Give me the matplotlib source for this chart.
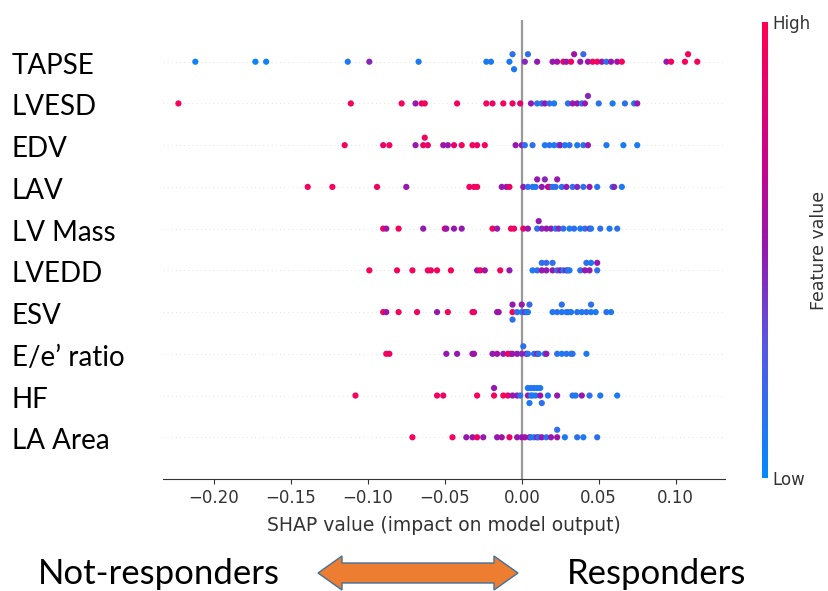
import numpy as np
import matplotlib
matplotlib.use("Agg")
import matplotlib.pyplot as plt
from matplotlib.colors import LinearSegmentedColormap
from matplotlib.patches import Polygon
import matplotlib.transforms as mtrans

# features, top row first
features = ["TAPSE", "LVESD", "EDV", "LAV", "LV Mass", "LVEDD", "ESV",
            "E/e\u2019 ratio", "HF", "LA Area"]

# shap values per feature and feature value 0=low .. 1=high
tapse_shap = [-0.212, -0.173, -0.166, -0.113, -0.099, -0.067, -0.023, -0.020, -0.008, -0.006,
              -0.005, 0.002, 0.004, 0.010, 0.020, 0.023, 0.027, 0.029, 0.032, 0.034,
              0.038, 0.040, 0.043, 0.046, 0.049, 0.052, 0.055, 0.058, 0.062, 0.065,
              0.094, 0.097, 0.106, 0.108, 0.114]
tapse_feat = [0.05, 0.05, 0.05, 0.1, 0.45, 0.1, 0.1, 0.1, 0.1, 0.15,
              0.1, 0.45, 0.15, 0.5, 0.5, 0.55, 0.9, 0.5, 0.9, 0.55,
              0.5, 0.2, 0.5, 0.9, 0.95, 0.55, 0.15, 0.5, 0.55, 0.95,
              0.5, 0.95, 0.95, 0.95, 0.95]

lvesd_shap = [-0.223, -0.111, -0.078, -0.069, -0.065, -0.063, -0.042, -0.023, -0.019, -0.012,
              -0.006, -0.001, 0.006, 0.010, 0.013, 0.015, 0.018, 0.021, 0.030, 0.033,
              0.036, 0.039, 0.041, 0.043, 0.050, 0.059, 0.067, 0.073, 0.075]
lvesd_feat = [0.95, 0.95, 0.95, 0.5, 0.9, 0.95, 0.95, 0.95, 0.9, 0.95,
              0.9, 0.85, 0.5, 0.15, 0.15, 0.5, 0.15, 0.1, 0.15, 0.5,
              0.5, 0.15, 0.5, 0.45, 0.15, 0.1, 0.15, 0.1, 0.5]

edv_shap = [-0.115, -0.090, -0.086, -0.069, -0.064, -0.063, -0.061, -0.051, -0.048, -0.044,
            -0.039, -0.032, -0.029, -0.024, -0.004, 0.000, 0.002, 0.007, 0.015, 0.018,
            0.021, 0.024, 0.025, 0.028, 0.031, 0.036, 0.040, 0.043, 0.055, 0.066, 0.075]
edv_feat = [0.95, 0.9, 0.95, 0.5, 0.9, 0.95, 0.9, 0.55, 0.5, 0.9,
            0.95, 0.95, 0.9, 0.95, 0.5, 0.5, 0.15, 0.15, 0.1, 0.15,
            0.1, 0.15, 0.5, 0.1, 0.15, 0.1, 0.15, 0.5, 0.1, 0.1, 0.1]

lav_shap = [-0.139, -0.123, -0.094, -0.075, -0.034, -0.031, -0.029, -0.013, -0.010, -0.008,
            0.001, 0.004, 0.007, 0.009, 0.010, 0.013, 0.015, 0.017, 0.018, 0.020,
            0.022, 0.023, 0.026, 0.029, 0.033, 0.036, 0.040, 0.044, 0.049, 0.059,
            0.060, 0.065]
lav_feat = [0.95, 0.95, 0.95, 0.5, 0.95, 0.9, 0.95, 0.5, 0.5, 0.9,
            0.5, 0.15, 0.15, 0.1, 0.5, 0.5, 0.45, 0.5, 0.8, 0.1,
            0.15, 0.5, 0.15, 0.5, 0.15, 0.45, 0.15, 0.5, 0.15, 0.1,
            0.45, 0.1]

lvmass_shap = [-0.090, -0.088, -0.080, -0.064, -0.050, -0.049, -0.044, -0.039, -0.019, -0.016,
               -0.007, -0.005, 0.001, 0.004, 0.010, 0.011, 0.013, 0.016, 0.019, 0.022,
               0.024, 0.027, 0.031, 0.034, 0.038, 0.041, 0.044, 0.045, 0.051, 0.057, 0.062]
lvmass_feat = [0.95, 0.55, 0.95, 0.5, 0.95, 0.5, 0.5, 0.5, 0.95, 0.5,
               0.95, 0.9, 0.9, 0.5, 0.15, 0.5, 0.45, 0.5, 0.5, 0.1,
               0.45, 0.15, 0.1, 0.15, 0.1, 0.15, 0.45, 0.1, 0.15, 0.1, 0.15]

lvedd_shap = [-0.099, -0.081, -0.071, -0.061, -0.059, -0.055, -0.046, -0.029, -0.027, -0.024,
              -0.014, -0.008, 0.007, 0.010, 0.013, 0.013, 0.016, 0.016, 0.020, 0.020,
              0.023, 0.025, 0.027, 0.029, 0.030, 0.031, 0.038, 0.041, 0.042, 0.044,
              0.045, 0.049, 0.049]
lvedd_feat = [0.95, 0.95, 0.95, 0.95, 0.9, 0.95, 0.95, 0.5, 0.95, 0.55,
              0.95, 0.5, 0.1, 0.15, 0.5, 0.15, 0.5, 0.2, 0.5, 0.15,
              0.15, 0.5, 0.1, 0.5, 0.15, 0.1, 0.15, 0.5, 0.15, 0.5,
              0.1, 0.15, 0.5]

esv_shap = [-0.090, -0.088, -0.080, -0.068, -0.055, -0.048, -0.032, -0.031, -0.016, -0.015,
            -0.006, -0.006, -0.006, -0.003, 0.000, 0.000, 0.002, 0.003, 0.004, 0.005,
            0.020, 0.023, 0.026, 0.026, 0.029, 0.030, 0.032, 0.036, 0.039, 0.042,
            0.045, 0.045, 0.048, 0.055, 0.058]
esv_feat = [0.95, 0.55, 0.95, 0.95, 0.5, 0.95, 0.95, 0.9, 0.5, 0.55,
            0.95, 0.5, 0.15, 0.15, 0.1, 0.5, 0.45, 0.15, 0.1, 0.2,
            0.1, 0.15, 0.1, 0.15, 0.1, 0.15, 0.1, 0.15, 0.1, 0.15,
            0.1, 0.15, 0.1, 0.15, 0.1]

ee_shap = [-0.088, -0.086, -0.049, -0.042, -0.032, -0.031, -0.019, -0.016, -0.012, -0.009,
           -0.007, -0.006, -0.003, 0.000, 0.001, 0.003, 0.004, 0.008, 0.010, 0.011,
           0.015, 0.016, 0.023, 0.026, 0.029, 0.032, 0.033, 0.042]
ee_feat = [0.95, 0.9, 0.5, 0.5, 0.5, 0.55, 0.5, 0.55, 0.5, 0.9,
           0.95, 0.5, 0.5, 0.45, 0.15, 0.5, 0.15, 0.15, 0.5, 0.15,
           0.1, 0.5, 0.15, 0.1, 0.15, 0.1, 0.15, 0.1]

hf_shap = [-0.108, -0.055, -0.051, -0.029, -0.018, -0.018, -0.012, -0.009, -0.006, -0.003,
           -0.001, 0.004, 0.004, 0.005, 0.006, 0.006, 0.007, 0.008, 0.009, 0.010,
           0.012, 0.012, 0.013, 0.017, 0.023, 0.033, 0.035, 0.039, 0.044, 0.051, 0.062]
hf_feat = [0.95, 0.95, 0.9, 0.95, 0.95, 0.5, 0.95, 0.9, 0.5, 0.5,
           0.15, 0.5, 0.1, 0.1, 0.15, 0.1, 0.1, 0.15, 0.1, 0.1,
           0.5, 0.1, 0.15, 0.1, 0.5, 0.15, 0.1, 0.5, 0.15, 0.1, 0.1]

laarea_shap = [-0.071, -0.045, -0.036, -0.032, -0.029, -0.025, -0.016, -0.013, -0.008, -0.003,
               0.000, 0.002, 0.005, 0.006, 0.008, 0.010, 0.011, 0.013, 0.016, 0.019,
               0.023, 0.023, 0.028, 0.036, 0.040, 0.049]
laarea_feat = [0.95, 0.95, 0.5, 0.55, 0.9, 0.5, 0.5, 0.55, 0.9, 0.5,
               0.5, 0.55, 0.5, 0.15, 0.1, 0.5, 0.15, 0.5, 0.15, 0.5,
               0.55, 0.15, 0.1, 0.15, 0.1, 0.15]

shap_rows = [tapse_shap, lvesd_shap, edv_shap, lav_shap, lvmass_shap,
             lvedd_shap, esv_shap, ee_shap, hf_shap, laarea_shap]
feat_rows = [tapse_feat, lvesd_feat, edv_feat, lav_feat, lvmass_feat,
             lvedd_feat, esv_feat, ee_feat, hf_feat, laarea_feat]

xticks = [-0.20, -0.15, -0.10, -0.05, 0.00, 0.05, 0.10]

red_blue = LinearSegmentedColormap.from_list(
    "red_blue", [(0.0, "#008bfb"), (0.3, "#5a55e0"), (0.5, "#9418b0"),
                 (0.7, "#c8048a"), (1.0, "#ff0052")])


def swarm_offsets(vals, row_height=0.4, nbins=100):
    # same idea as shap's beeswarm: stack points that fall in one bin
    vals = np.asarray(vals)
    quant = np.round(nbins * (vals - vals.min()) / (vals.max() - vals.min() + 1e-8))
    inds = np.argsort(quant, kind="stable")
    layer = 0
    last_bin = -1
    ys = np.zeros(len(vals))
    for ind in inds:
        if quant[ind] != last_bin:
            layer = 0
        ys[ind] = np.ceil(layer / 2) * ((layer % 2) * 2 - 1)
        layer += 1
        last_bin = quant[ind]
    ys *= 0.9 * (row_height / np.max(ys + 1))
    return ys


W, H = 829, 591
fig = plt.figure(figsize=(W / 100, H / 100), dpi=100)
ax = fig.add_axes([163 / W, 1 - 479 / H, (725 - 163) / W, (479 - 20) / H])

n = len(features)
for i, name in enumerate(features):
    pos = n - 1 - i
    vals = np.array(shap_rows[i])
    ax.axhline(pos, color="#cccccc", lw=0.5, dashes=(1, 5), zorder=-1)
    ys = swarm_offsets(vals)
    ax.scatter(vals, pos + ys, c=feat_rows[i], cmap=red_blue, vmin=0, vmax=1,
               s=20, linewidth=0, zorder=3, rasterized=True)

ax.axvline(0, color="#999999", lw=1.6, zorder=-1)
ax.set_ylim(-1, n)
ax.set_xlim(-0.233, 0.132)
ax.set_yticks([])
ax.set_xticks(xticks)
ax.set_xticklabels([f"{t:.2f}".replace("-", "\u2212") for t in xticks])
ax.tick_params(axis="x", labelsize=12, labelcolor="#333333", color="#333333")
for sp in ["top", "right", "left"]:
    ax.spines[sp].set_visible(False)
ax.spines["bottom"].set_color("#333333")
ax.set_xlabel("SHAP value (impact on model output)", fontsize=13.5, labelpad=7,
              color="#333333")

# big feature names, left aligned at the figure edge, sitting a bit below the rows
trans = mtrans.blended_transform_factory(fig.transFigure, ax.transData)
trans = mtrans.offset_copy(trans, fig=fig, y=-4, units="dots")
for i, name in enumerate(features):
    ax.text(12 / W, n - 1 - i, name, transform=trans, ha="left", va="center",
            fontsize=20, family=["Lato", "DejaVu Sans"], color="black")

# colour bar
cax = fig.add_axes([762 / W, 1 - 478 / H, 6 / W, (478 - 22) / H])
sm = plt.cm.ScalarMappable(cmap=red_blue, norm=plt.Normalize(0, 1))
cb = fig.colorbar(sm, cax=cax, ticks=[0, 1])
cb.set_ticklabels(["Low", "High"])
cb.ax.tick_params(labelsize=12, length=0, labelcolor="#333333")
cb.outline.set_visible(False)
cb.set_label("Feature value", size=12.5, labelpad=-1, color="#333333")

# responders arrow at the bottom
fig.text(38 / W, 1 - 574 / H, "Not-responders", ha="left", va="center",
         fontsize=25, family=["Lato", "DejaVu Sans"])
fig.text(567 / W, 1 - 574 / H, "Responders", ha="left", va="center",
         fontsize=25, family=["Lato", "DejaVu Sans"])
cy, hh, bh = 573, 17, 10
px = [(318, cy), (342, cy - hh), (342, cy - bh), (494, cy - bh), (494, cy - hh),
      (518, cy), (494, cy + hh), (494, cy + bh), (342, cy + bh), (342, cy + hh)]
arrow = Polygon([(x / W, 1 - y / H) for x, y in px], closed=True,
                transform=fig.transFigure, facecolor="#ed7d31",
                edgecolor="#41719c", lw=1.0)
fig.patches.append(arrow)

fig.savefig("out.png", dpi=100, facecolor="white")
